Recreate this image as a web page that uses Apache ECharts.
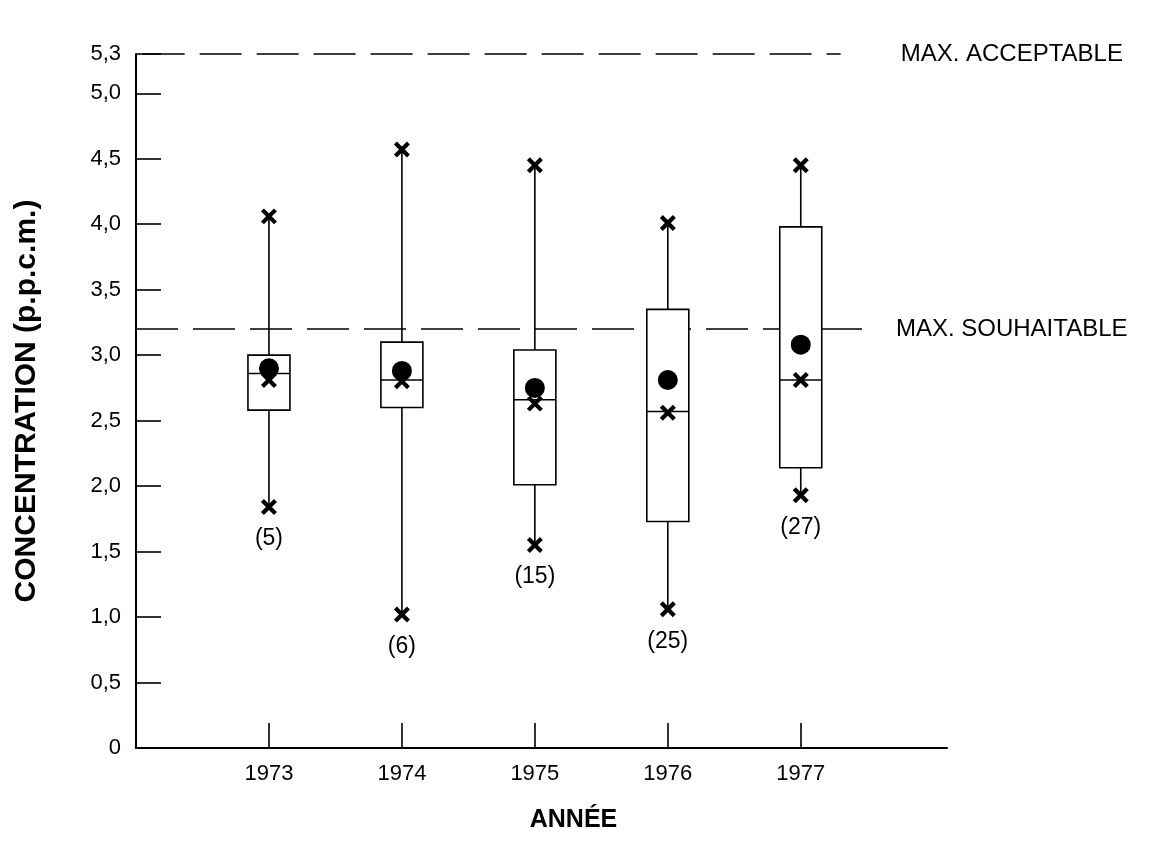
<!DOCTYPE html>
<html>
<head>
<meta charset="utf-8">
<script src="https://cdn.jsdelivr.net/npm/echarts@6/dist/echarts.min.js"></script>
<style>
html,body{margin:0;padding:0;background:#fff;}
#chart{width:1152px;height:863px;}
</style>
</head>
<body>
<div id="chart"></div>
<script>
// ---- data ----
const years = [1973, 1974, 1975, 1976, 1977];
const maxVals = [4.06, 4.57, 4.45, 4.01, 4.45];
const q3Vals = [3.00, 3.10, 3.04, 3.35, 3.98];
const medianVals = [2.86, 2.81, 2.66, 2.57, 2.81];
const q1Vals = [2.58, 2.60, 2.01, 1.73, 2.14];
const minVals = [1.84, 1.02, 1.55, 1.06, 1.93];
const midMarkVals = [2.81, 2.80, 2.63, 2.56, 2.81];
const meanVals = [2.90, 2.88, 2.75, 2.81, 3.08];
const counts = [5, 6, 15, 25, 27];
const yTickValues = [0, 0.5, 1, 1.5, 2, 2.5, 3, 3.5, 4, 4.5, 5, 5.3];
const yTickLabels = ['0', '0,5', '1,0', '1,5', '2,0', '2,5', '3,0', '3,5', '4,0', '4,5', '5,0', '5,3'];
const maxAcceptable = 5.3;
const maxSouhaitable = 3.2;
const limitLabels = ['MAX. ACCEPTABLE', 'MAX. SOUHAITABLE'];
const yAxisTitle = 'CONCENTRATION (p.p.c.m.)';
const xAxisTitle = 'ANNÉE';

const FONT = '"Liberation Sans", Arial, Helvetica, sans-serif';

const seriesData = years.map((y, i) => [y, minVals[i], q1Vals[i], medianVals[i], q3Vals[i], maxVals[i], midMarkVals[i], meanVals[i], counts[i]]);

function cross(c, s, style) {
  return [
    { type: 'line', shape: { x1: c[0] - s, y1: c[1] - s, x2: c[0] + s, y2: c[1] + s }, style: style },
    { type: 'line', shape: { x1: c[0] - s, y1: c[1] + s, x2: c[0] + s, y2: c[1] - s }, style: style }
  ];
}

function renderItem(params, api) {
  const x = api.value(0);
  const pMin = api.coord([x, api.value(1)]);
  const pQ1 = api.coord([x, api.value(2)]);
  const pMed = api.coord([x, api.value(3)]);
  const pQ3 = api.coord([x, api.value(4)]);
  const pMax = api.coord([x, api.value(5)]);
  const pMid = api.coord([x, api.value(6)]);
  const pMean = api.coord([x, api.value(7)]);
  const n = api.value(8);
  const half = 21;
  const thin = { stroke: '#000', lineWidth: 1.6, fill: null };
  const bold = { stroke: '#000', lineWidth: 4.2, lineCap: 'butt' };
  const children = [
    { type: 'line', shape: { x1: pQ3[0], y1: pQ3[1], x2: pMax[0], y2: pMax[1] }, style: thin },
    { type: 'line', shape: { x1: pQ1[0], y1: pQ1[1], x2: pMin[0], y2: pMin[1] }, style: thin },
    { type: 'rect', shape: { x: pQ3[0] - half, y: pQ3[1], width: half * 2, height: pQ1[1] - pQ3[1] }, style: { stroke: '#000', lineWidth: 1.6, fill: '#fff' } },
    { type: 'line', shape: { x1: pMed[0] - half, y1: pMed[1], x2: pMed[0] + half, y2: pMed[1] }, style: thin },
    { type: 'circle', shape: { cx: pMean[0], cy: pMean[1], r: 10 }, style: { fill: '#000' } }
  ]
    .concat(cross(pMax, 6.5, bold))
    .concat(cross(pMid, 6.5, bold))
    .concat(cross(pMin, 6.5, bold));
  children.push({
    type: 'text',
    x: pMin[0], y: pMin[1] + 32,
    style: { text: '(' + n + ')', fill: '#000', font: '23px ' + FONT, align: 'center', verticalAlign: 'middle' }
  });
  return { type: 'group', children: children };
}

const chart = echarts.init(document.getElementById('chart'), null, { renderer: 'canvas' });
const dashStyle = { type: [42, 15], color: '#000', width: 1.6 };

const option = {
  backgroundColor: '#fff',
  animation: false,
  grid: { left: 136, top: 54, width: 811, height: 694, outerBoundsMode: 'none' },
  xAxis: {
    type: 'value', min: 1972, max: 1978.1,
    name: xAxisTitle, nameLocation: 'middle', nameGap: 60,
    nameTextStyle: { fontFamily: FONT, fontWeight: 'bold', fontSize: 25, color: '#000', padding: [0, 0, 0, 64] },
    axisLine: { show: true, lineStyle: { color: '#000', width: 2 } },
    axisTick: { show: true, inside: true, length: 25, customValues: years, lineStyle: { color: '#000', width: 1.6 } },
    axisLabel: { customValues: years, formatter: v => String(Math.round(v)), margin: 15, color: '#000', fontSize: 22, fontFamily: FONT },
    splitLine: { show: false }
  },
  yAxis: {
    type: 'value', min: 0, max: 5.3,
    name: yAxisTitle, nameLocation: 'middle', nameGap: 94, nameRotate: 90,
    nameTextStyle: { fontFamily: FONT, fontWeight: 'bold', fontSize: 30, color: '#000' },
    axisLine: { show: true, lineStyle: { color: '#000', width: 2 } },
    axisTick: { show: true, inside: true, length: 25, customValues: yTickValues, lineStyle: { color: '#000', width: 1.6 } },
    axisLabel: {
      customValues: yTickValues,
      formatter: v => { let k = 0; yTickValues.forEach((t, i) => { if (Math.abs(t - v) < Math.abs(yTickValues[k] - v)) k = i; }); return yTickLabels[k]; },
      margin: 15, color: '#000', fontSize: 22, fontFamily: FONT
    },
    splitLine: { show: false }
  },
  series: [
    {
      type: 'line', data: [], z: 1, silent: true,
      markLine: {
        symbol: 'none', silent: true, animation: false,
        lineStyle: dashStyle,
        label: { show: true, position: 'end', color: '#000', fontSize: 24, fontFamily: FONT },
        data: [
          [{ coord: [1972.05, maxAcceptable], label: { formatter: limitLabels[0], distance: 60 } }, { coord: [1977.3, maxAcceptable] }],
          [{ coord: [1972, maxSouhaitable], label: { formatter: limitLabels[1], distance: 30 } }, { coord: [1977.49, maxSouhaitable] }]
        ]
      }
    },
    {
      type: 'custom', z: 5, silent: true,
      renderItem: renderItem,
      encode: { x: 0, y: [1, 2, 3, 4, 5] },
      data: seriesData,
      clip: false
    }
  ]
};
chart.setOption(option);
</script>
</body>
</html>
